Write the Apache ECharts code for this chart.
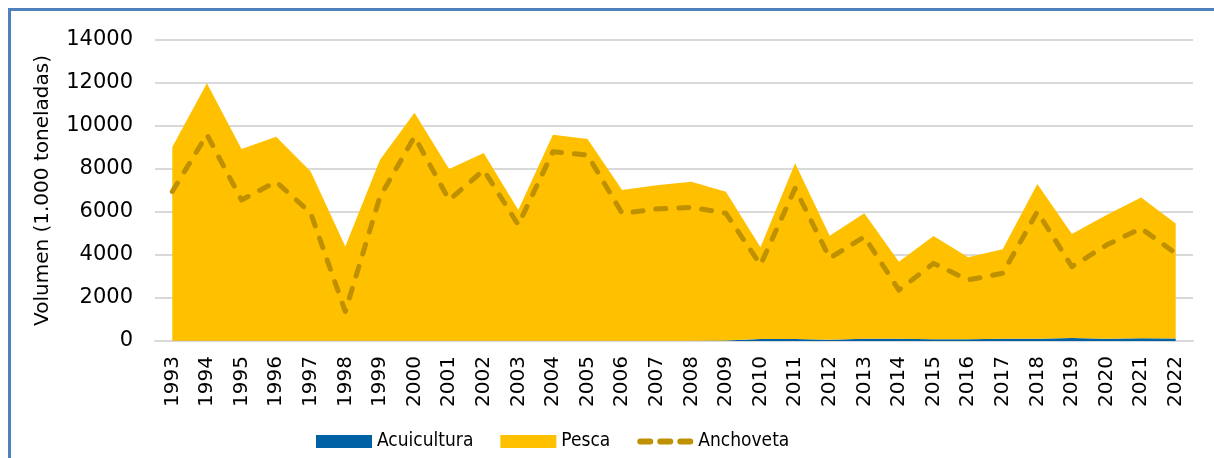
<!DOCTYPE html>
<html>
<head>
<meta charset="utf-8">
<script src="https://cdn.jsdelivr.net/npm/echarts@6/dist/echarts.min.js"></script>
<style>
  html, body { margin: 0; padding: 0; background: #fff; }
  #chart { width: 1214px; height: 458px; }
</style>
</head>
<body>
<div id="chart"></div>
<script>
// Años de la serie
const years = ['1993','1994','1995','1996','1997','1998','1999','2000','2001','2002',
  '2003','2004','2005','2006','2007','2008','2009','2010','2011','2012',
  '2013','2014','2015','2016','2017','2018','2019','2020','2021','2022'];

// Volumen de acuicultura (1.000 t)
const acuicultura = [10, 10, 10, 10, 10, 10, 10, 10, 10, 10,
  10, 10, 10, 10, 10, 10, 20, 90, 90, 60,
  100, 110, 80, 80, 100, 110, 140, 110, 130, 120];

// Volumen de pesca (1.000 t)
const pesca = [9010, 11980, 8920, 9490, 7870, 4380, 8410, 10610, 7990, 8730,
  6080, 9580, 9380, 7010, 7240, 7400, 6920, 4270, 8180, 4840,
  5840, 3580, 4800, 3810, 4170, 7190, 4840, 5750, 6550, 5350];

// Desembarque de anchoveta (1.000 t)
const anchoveta = [6950, 9600, 6560, 7410, 5950, 1370, 6700, 9500, 6560, 7950,
  5400, 8800, 8650, 5940, 6140, 6220, 5940, 3540, 7100, 3850,
  4850, 2370, 3610, 2840, 3150, 6010, 3460, 4460, 5240, 4080];

// Marcas del eje vertical
const yTicks = { min: 0, max: 14000, step: 2000 };

const axisFont = "'DejaVu Sans', sans-serif";
const legendFont = "'DejaVu Sans Condensed', 'DejaVu Sans', sans-serif";

// Icono de leyenda: tres trazos con extremos redondeados
const dashIcon = 'path://M3,0H13A3,3 0 0 1 13,6H3A3,3 0 0 1 3,0Z' +
  'M23,0H33A3,3 0 0 1 33,6H23A3,3 0 0 1 23,0Z' +
  'M43,0H53A3,3 0 0 1 53,6H43A3,3 0 0 1 43,0Z';

const chart = echarts.init(document.getElementById('chart'));

chart.setOption({
  animation: false,
  backgroundColor: '#ffffff',
  graphic: [{
    type: 'polyline',
    shape: { points: [[9.5, 470], [9.5, 9.5], [1230, 9.5]] },
    style: { stroke: '#4F81BD', lineWidth: 3, fill: null },
    silent: true,
    z: 100
  }],
  grid: { left: 155, right: 21, top: 40, bottom: 117 },
  legend: {
    bottom: 7,
    left: 316,
    padding: 0,
    itemWidth: 56,
    itemHeight: 13,
    itemGap: 27,
    textStyle: { fontFamily: legendFont, fontSize: 19, color: '#000' },
    data: [
      { name: 'Acuicultura', icon: 'rect' },
      { name: 'Pesca', icon: 'rect' },
      { name: 'Anchoveta', icon: dashIcon, itemStyle: { color: '#BF9000' } }
    ]
  },
  xAxis: {
    type: 'category',
    data: years,
    boundaryGap: true,
    axisTick: { show: false },
    axisLine: { lineStyle: { color: '#d9d9d9', width: 2 } },
    axisLabel: {
      rotate: 90,
      interval: 0,
      margin: 15,
      fontFamily: axisFont,
      fontSize: 20,
      color: '#000'
    }
  },
  yAxis: {
    type: 'value',
    min: yTicks.min,
    max: yTicks.max,
    interval: yTicks.step,
    name: 'Volumen (1.000 toneladas)',
    nameLocation: 'middle',
    nameGap: 102,
    nameTextStyle: { fontFamily: axisFont, fontSize: 20, color: '#000' },
    axisLine: { show: false },
    axisTick: { show: false },
    splitLine: { lineStyle: { color: '#d9d9d9', width: 2 } },
    axisLabel: {
      margin: 22,
      fontFamily: axisFont,
      fontSize: 21,
      color: '#000',
      formatter: (v) => String(v)
    }
  },
  series: [
    {
      name: 'Acuicultura',
      type: 'line',
      stack: 'total',
      data: acuicultura,
      symbol: 'none',
      itemStyle: { color: '#0062A4' },
      lineStyle: { width: 0 },
      areaStyle: { color: '#0062A4', opacity: 1 }
    },
    {
      name: 'Pesca',
      type: 'line',
      stack: 'total',
      data: pesca,
      symbol: 'none',
      itemStyle: { color: '#FFC000' },
      lineStyle: { width: 0 },
      areaStyle: { color: '#FFC000', opacity: 1 }
    },
    {
      name: 'Anchoveta',
      type: 'line',
      data: anchoveta,
      symbol: 'none',
      itemStyle: { color: '#BF9000' },
      lineStyle: { color: '#BF9000', width: 5, type: [10, 13], cap: 'round', join: 'round' },
      z: 5
    }
  ]
});
</script>
</body>
</html>
